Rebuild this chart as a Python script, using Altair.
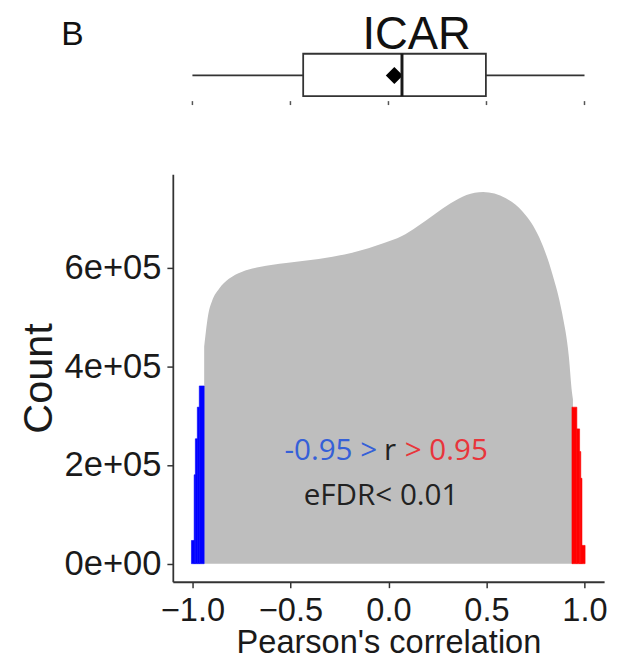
import altair as alt
import pandas as pd

# ---- data ----
curve_r = [-0.94, -0.932, -0.92, -0.899, -0.864, -0.814, -0.749, -0.658, -0.522, -0.356,
           -0.185, -0.019, 0.066, 0.147, 0.232, 0.317, 0.398, 0.483, 0.599, 0.685,
           0.770, 0.836, 0.886, 0.920, 0.936, 0.941]
curve_count = [440000, 468000, 503000, 533000, 557000, 577000, 591000, 601000, 609000, 617000,
               630000, 650000, 663000, 683000, 707000, 730000, 747000, 753000, 740000, 713000,
               660000, 587000, 507000, 420000, 347000, 333000]

blue_lo = [-1.005, -0.991, -0.985, -0.975, -0.965]
blue_hi = [-0.991, -0.985, -0.975, -0.965, -0.94]
blue_count = [47000, 180000, 253000, 317000, 360000]

red_lo = [0.936, 0.961, 0.975, 0.981, 0.987]
red_hi = [0.961, 0.975, 0.981, 0.987, 1.003]
red_count = [317000, 273000, 227000, 173000, 37000]

box_whisker_lo = -1.0
box_q1 = -0.435
box_median = 0.069
box_q3 = 0.497
box_whisker_hi = 1.0
box_mean = 0.03

x_ticks = [-1.0, -0.5, 0.0, 0.5, 1.0]
y_ticks = [0, 200000, 400000, 600000]
y_tick_labels = ["0e+00", "2e+05", "4e+05", "6e+05"]

title_text = "ICAR"
panel_letter = "B"
x_title = "Pearson's correlation"
y_title = "Count"
ann_blue = "-0.95 >"
ann_mid = "r"
ann_red = "> 0.95"
ann_line2 = "eFDR< 0.01"

# ---- tables ----
curve_df = pd.DataFrame({"r": curve_r, "count": curve_count})
blue_df = pd.DataFrame({"lo": blue_lo, "hi": blue_hi, "count": blue_count})
red_df = pd.DataFrame({"lo": red_lo, "hi": red_hi, "count": red_count})
box_df = pd.DataFrame({"q1": [box_q1], "q3": [box_q3], "median": [box_median], "mean": [box_mean]})
whisk_df = pd.DataFrame({"a": [box_whisker_lo, box_q3], "b": [box_q1, box_whisker_hi]})
tick_df = pd.DataFrame({"v": x_ticks})

FONT = "Liberation Sans"
AXC = "#333333"

xs = alt.Scale(domain=[-1.1, 1.1], nice=False, zero=False)
ys = alt.Scale(domain=[-36600, 789000], nice=False, zero=False)

label_expr = " : ".join(
    f"datum.value == {v} ? '{l}'" for v, l in zip(y_ticks, y_tick_labels)
) + " : ''"

x_axis = alt.Axis(values=x_ticks, format=".1f", title=x_title, grid=False,
                  labelFontSize=33, titleFontSize=33, labelFont=FONT, titleFont=FONT,
                  labelColor="#1a1a1a", titleColor="#1a1a1a", titleFontWeight="normal",
                  domainColor=AXC, domainWidth=1.8, tickColor=AXC, tickWidth=1.5, tickSize=6,
                  labelPadding=7, titleBaseline="alphabetic", titleY=72, labelFlush=False)
y_axis = alt.Axis(values=y_ticks, labelExpr=label_expr, title=y_title, grid=False,
                  labelFontSize=35, titleFontSize=42, labelFont=FONT, titleFont=FONT,
                  labelColor="#1a1a1a", titleColor="#1a1a1a", titleFontWeight="normal",
                  domainColor=AXC, domainWidth=1.8, tickColor=AXC, tickWidth=1.5, tickSize=6,
                  labelPadding=6, titleBaseline="alphabetic", titleX=-123, titleAngle=270,
                  labelFlush=False)

def X(field):
    return alt.X(f"{field}:Q", scale=xs, axis=x_axis, title=x_title)

def Y(field):
    return alt.Y(f"{field}:Q", scale=ys, axis=y_axis, title=y_title)

area = alt.Chart(curve_df).mark_area(color="#BEBEBE", interpolate="monotone", opacity=1).encode(
    x=X("r"), y=Y("count"))

blue = alt.Chart(blue_df).mark_rect(color="#0000FF", stroke="#0000FF", strokeWidth=0.6).encode(
    x=X("lo"), x2="hi", y=Y("count"), y2=alt.datum(0))
red = alt.Chart(red_df).mark_rect(color="#FF0000", stroke="#FF0000", strokeWidth=0.6).encode(
    x=X("lo"), x2="hi", y=Y("count"), y2=alt.datum(0))

# boxplot above the panel
whiskers = alt.Chart(whisk_df).mark_rule(color="#333333", strokeWidth=1.8).encode(
    x=X("a"), x2="b", y=alt.value(-100))
box = alt.Chart(box_df).mark_rect(fill="white", stroke="#333333", strokeWidth=1.8).encode(
    x=X("q1"), x2="q3", y=alt.value(-122), y2=alt.value(-79))
mean = alt.Chart(box_df).mark_point(shape="diamond", filled=True, size=300, color="black",
                                    opacity=1).encode(x=X("mean"), y=alt.value(-100))
median = alt.Chart(box_df).mark_rule(color="#1a1a1a", strokeWidth=3).encode(
    x=X("median"), y=alt.value(-122), y2=alt.value(-79))
bticks = alt.Chart(tick_df).mark_rule(color="#555555", strokeWidth=1.5).encode(
    x=X("v"), y=alt.value(-74), y2=alt.value(-70))

def txt(s, x, y, size, color, align="center", font=FONT):
    return alt.Chart(pd.DataFrame({"t": [s]})).mark_text(
        align=align, baseline="alphabetic", fontSize=size, font=font, color=color
    ).encode(text="t:N", x=alt.value(x), y=alt.value(y))

title = txt(title_text, 247, -127, 46, "#111111")
letter = txt(panel_letter, -113, -131, 34, "#111111", align="left")
a1 = txt(ann_blue, 207, 290, 30, "#3560D8", align="right", font="Open Sans")
a2 = txt(ann_mid, 220, 290, 30, "#222222", font="Open Sans")
a3 = txt(ann_red, 235, 290, 30, "#E8353B", align="left", font="Open Sans")
a4 = txt(ann_line2, 211, 335, 30, "#222222", font="Open Sans")

chart = alt.layer(area, blue, red, whiskers, box, mean, median, bticks,
                  title, letter, a1, a2, a3, a4).properties(
    width=437, height=413,
    background="white",
    autosize=alt.AutoSizeParams(type="none"),
    padding={"left": 167, "top": 164, "right": 8, "bottom": 80},
).configure_view(strokeWidth=0, stroke="transparent")

chart.save("out.html", embed_options={"renderer": "svg", "actions": False})
